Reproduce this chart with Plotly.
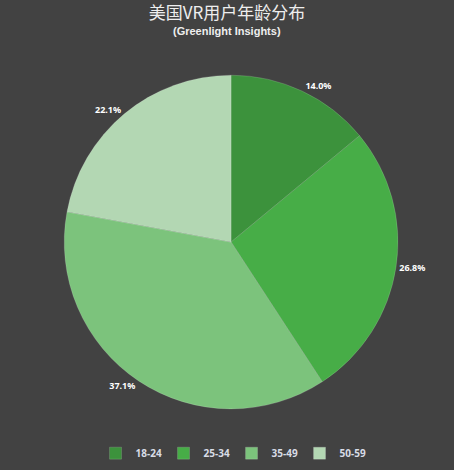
import plotly.graph_objects as go

age_groups = ["18-24", "25-34", "35-49", "50-59"]
shares = [14.0, 26.8, 37.1, 22.1]
slice_colors = ["#3c923c", "#47ad47", "#7cc37c", "#b3d7b3"]

fig = go.Figure(
    go.Pie(
        labels=age_groups,
        values=shares,
        sort=False,
        direction="clockwise",
        rotation=0,
        marker=dict(colors=slice_colors, line=dict(color="rgba(255,255,255,0.25)", width=0.6)),
        texttemplate="<b>%{value:.1f}%</b>",
        textposition="outside",
        textfont=dict(family="Noto Sans, DejaVu Sans", size=9, color="#ffffff"),
        hoverinfo="label+percent",
        domain=dict(x=[0.141, 0.877], y=[0.130, 0.840]),
    )
)

fig.update_layout(
    width=454,
    height=470,
    paper_bgcolor="#424242",
    plot_bgcolor="#424242",
    margin=dict(l=0, r=0, t=0, b=0, autoexpand=False),
    title=dict(
        text="美国VR用户年龄分布",
        x=0.5,
        xanchor="center",
        y=0.973,
        yanchor="middle",
        font=dict(family="Noto Sans CJK SC", size=17, color="#eeeeee"),
    ),
    legend=dict(
        orientation="h",
        x=0.51,
        xanchor="center",
        y=0.005,
        yanchor="bottom",
        font=dict(family="Noto Sans, DejaVu Sans", size=10, color="#d8dce6", weight="bold"),
        itemwidth=30,
        entrywidth=23,
        traceorder="normal",
    ),
)

# subtitle under the main title
fig.add_annotation(
    text="(Greenlight Insights)",
    x=0.5,
    y=0.935,
    xref="paper",
    yref="paper",
    xanchor="center",
    yanchor="middle",
    showarrow=False,
    font=dict(family="Liberation Sans", size=11, color="#eeeeee", weight="bold"),
)

fig.write_html(
    "out.html",
    config={"displayModeBar": False},
    post_script="document.body.style.margin='0';",
)
